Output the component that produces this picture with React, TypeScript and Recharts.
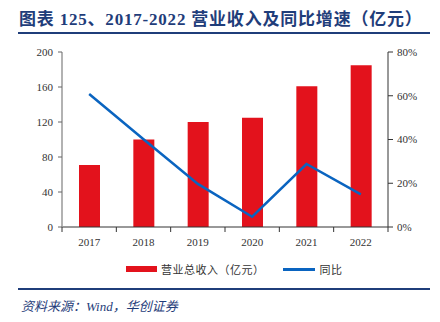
import React from 'react';
import { ComposedChart, XAxis, YAxis, Bar, Line } from 'recharts';

const years = ['2017', '2018', '2019', '2020', '2021', '2022'];
const revenue = [71, 100, 120, 125, 161, 185];
const growth = [0.608, 0.401, 0.197, 0.047, 0.288, 0.149];
const leftTicks = [0, 40, 80, 120, 160, 200];
const rightTicks = [0, 0.2, 0.4, 0.6, 0.8];

const data = years.map((year, i) => ({ year, revenue: revenue[i], growth: growth[i] }));

const navy = '#1f3d7a';
const red = '#e3121c';
const blue = '#0a64c0';
const serif = "'Liberation Serif', 'Noto Sans CJK SC', serif";

// category label plus a tick mark on the band edges
const YearTick = (props: any) => {
  const { x, y, payload, index, visibleTicksCount } = props;
  const half = payload.offset || 0;
  return (
    <g>
      <line x1={x - half} x2={x - half} y1={y} y2={y + 5} stroke="#333" />
      {index === visibleTicksCount - 1 && (
        <line x1={x + half} x2={x + half} y1={y} y2={y + 5} stroke="#333" />
      )}
      <text x={x} y={y} dy={19} textAnchor="middle" fontSize={11} fill="#333" fontFamily={serif}>
        {payload.value}
      </text>
    </g>
  );
};

const tickStyle = { fontSize: 11, fill: '#333', fontFamily: serif };

const App: React.FC = () => {
  return (
    <div style={{ position: 'absolute', left: 0, top: 0, width: 440, height: 322, background: '#fff', fontFamily: serif }}>
      <div style={{ position: 'absolute', left: 19, top: 5, fontSize: 17, letterSpacing: 0.8, fontWeight: 'bold', color: navy, whiteSpace: 'nowrap' }}>
        图表 125、2017-2022 营业收入及同比增速（亿元）
      </div>
      <div style={{ position: 'absolute', left: 18, top: 32, width: 412, height: 2, background: navy }} />

      <div style={{ position: 'absolute', left: 0, top: 0 }}>
        <ComposedChart width={440} height={260} data={data} margin={{ top: 52, right: 0, bottom: 8, left: 0 }}>
          <XAxis xAxisId="cat" dataKey="year" tick={<YearTick />} tickLine={false} axisLine={{ stroke: '#333' }}
            height={25} tickSize={0} tickMargin={0} />
          <YAxis yAxisId="left" domain={[0, 200]} ticks={leftTicks} width={62} tick={tickStyle}
            tickSize={4} tickMargin={5} axisLine={{ stroke: '#999', strokeWidth: 1.5 }} tickLine={{ stroke: '#666' }} />
          <YAxis yAxisId="right" orientation="right" domain={[0, 0.8]} ticks={rightTicks} width={52}
            tickFormatter={(v: number) => `${Math.round(v * 100)}%`} tick={tickStyle}
            tickSize={5} tickMargin={4} axisLine={{ stroke: '#333' }} tickLine={{ stroke: '#333' }} />
          <Bar xAxisId="cat" yAxisId="left" dataKey="revenue" fill={red} barSize={21} isAnimationActive={false} />
          <Line xAxisId="cat" yAxisId="right" type="linear" dataKey="growth" stroke={blue} strokeWidth={2.5}
            dot={false} isAnimationActive={false} />
        </ComposedChart>
      </div>

      <div style={{ position: 'absolute', left: 126, top: 261, display: 'flex', alignItems: 'center', fontSize: 11, letterSpacing: 0.5, color: '#333', fontFamily: "'Noto Sans CJK SC', sans-serif", whiteSpace: 'nowrap' }}>
        <span style={{ display: 'inline-block', width: 31, height: 6, background: red, marginRight: 4 }} />
        <span>营业总收入（亿元）</span>
        <span style={{ display: 'inline-block', width: 32, height: 3, background: blue, marginLeft: 18, marginRight: 5 }} />
        <span>同比</span>
      </div>

      <div style={{ position: 'absolute', left: 18, top: 288, width: 412, height: 2, background: navy }} />
      <div style={{ position: 'absolute', left: 21, top: 296, fontSize: 13, fontStyle: 'italic', color: navy, whiteSpace: 'nowrap' }}>
        资料来源：Wind，华创证券
      </div>
    </div>
  );
};

export default App;
